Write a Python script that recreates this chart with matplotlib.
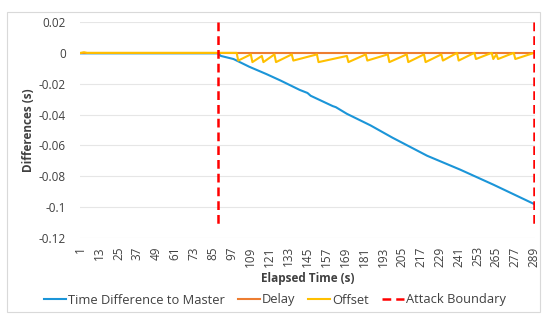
import matplotlib.pyplot as plt
from matplotlib.patches import Rectangle

plt.rcParams['font.family'] = ['Open Sans', 'DejaVu Sans']

# elapsed time categories (1..289) and tick labels every 12 s
n_points = 289
tick_labels = list(range(1, 290, 12))

# time difference to master (read at breakpoints)
tdm_t = [1, 88, 90, 98, 108, 119, 128, 140, 145, 147, 161, 163, 170, 185, 199, 221, 242, 263, 289]
tdm_v = [-0.0003, -0.0003, -0.002, -0.004, -0.009, -0.0138, -0.018, -0.024, -0.026, -0.0278,
         -0.0345, -0.0352, -0.0395, -0.047, -0.055, -0.0667, -0.0757, -0.0854, -0.098]

# delay stays at zero
delay_t = [1, 289]
delay_v = [0, 0]

# offset sawtooth vertices
off_t = [1, 3, 5, 88, 100, 101, 109, 110, 116, 117, 124, 125, 135, 136, 151, 152,
         170, 171, 182, 183, 196, 197, 208, 209, 219, 220, 230, 231, 240, 241,
         251, 252, 262, 263, 265, 266, 276, 277, 289]
off_v = [0, 0.0004, 0, 0, 0, -0.005, -0.001, -0.006, -0.002, -0.006, -0.001, -0.006,
         -0.001, -0.005, -0.001, -0.006, -0.002, -0.006, -0.001, -0.005, -0.001, -0.006,
         -0.001, -0.006, -0.001, -0.006, -0.001, -0.005, 0, -0.005, 0, -0.004,
         0, -0.004, -0.001, -0.004, 0, -0.004, 0]

# attack boundaries
boundary_t = [88, 289]
boundary_y = [0.02, -0.112]

text_col = '#404040'

fig = plt.figure(figsize=(5.5, 3.26), dpi=100)
fig.patches.append(Rectangle((7 / 550, 1 - 312 / 326), 533 / 550, 300 / 326,
                             transform=fig.transFigure, fill=False,
                             edgecolor='#d9d9d9', linewidth=0.8))
ax = fig.add_axes([80 / 550, 1 - 238 / 326, 455 / 550, 216 / 326])

ax.plot(tdm_t, tdm_v, color='#1b95d8', linewidth=1.5, label='Time Difference to Master', zorder=3)
ax.plot(delay_t, delay_v, color='#ed7d31', linewidth=1.5, label='Delay', zorder=4)
ax.plot(off_t, off_v, color='#ffc000', linewidth=1.5, label='Offset', zorder=5)
for i, bt in enumerate(boundary_t):
    ax.plot([bt, bt], boundary_y, color='#ff0000', linewidth=1.8, linestyle=(0, (3.5, 2)),
            label='Attack Boundary' if i == 0 else None, zorder=6)

ax.set_xlim(0.5, n_points + 0.5)
ax.set_ylim(-0.12, 0.02)
ax.set_yticks([0.02, 0, -0.02, -0.04, -0.06, -0.08, -0.1, -0.12])
ax.set_yticklabels(['0.02', '0', '-0.02', '-0.04', '-0.06', '-0.08', '-0.1', '-0.12'])
ax.set_xticks(tick_labels)
ax.set_xticklabels([str(t) for t in tick_labels], rotation=90)
ax.tick_params(length=0, labelsize=8.5, colors=text_col, pad=6)
ax.tick_params(axis='y', pad=10)
ax.grid(axis='y', color='#e6e6e6', linewidth=0.8)
ax.set_axisbelow(True)
for s in ax.spines.values():
    s.set_visible(False)

ax.set_ylabel('Differences (s)', fontsize=8.5, fontweight='bold', color=text_col, labelpad=3)
ax.set_xlabel('Elapsed Time (s)', fontsize=8.5, fontweight='bold', color=text_col, labelpad=4)

leg = fig.legend(loc='center', bbox_to_anchor=(275 / 550, 1 - 300 / 326), ncol=4,
                 frameon=False, fontsize=9.3, handlelength=1.7, handletextpad=0.15,
                 columnspacing=1.0)
for t in leg.get_texts():
    t.set_color(text_col)

fig.savefig('out.png', dpi=100)
